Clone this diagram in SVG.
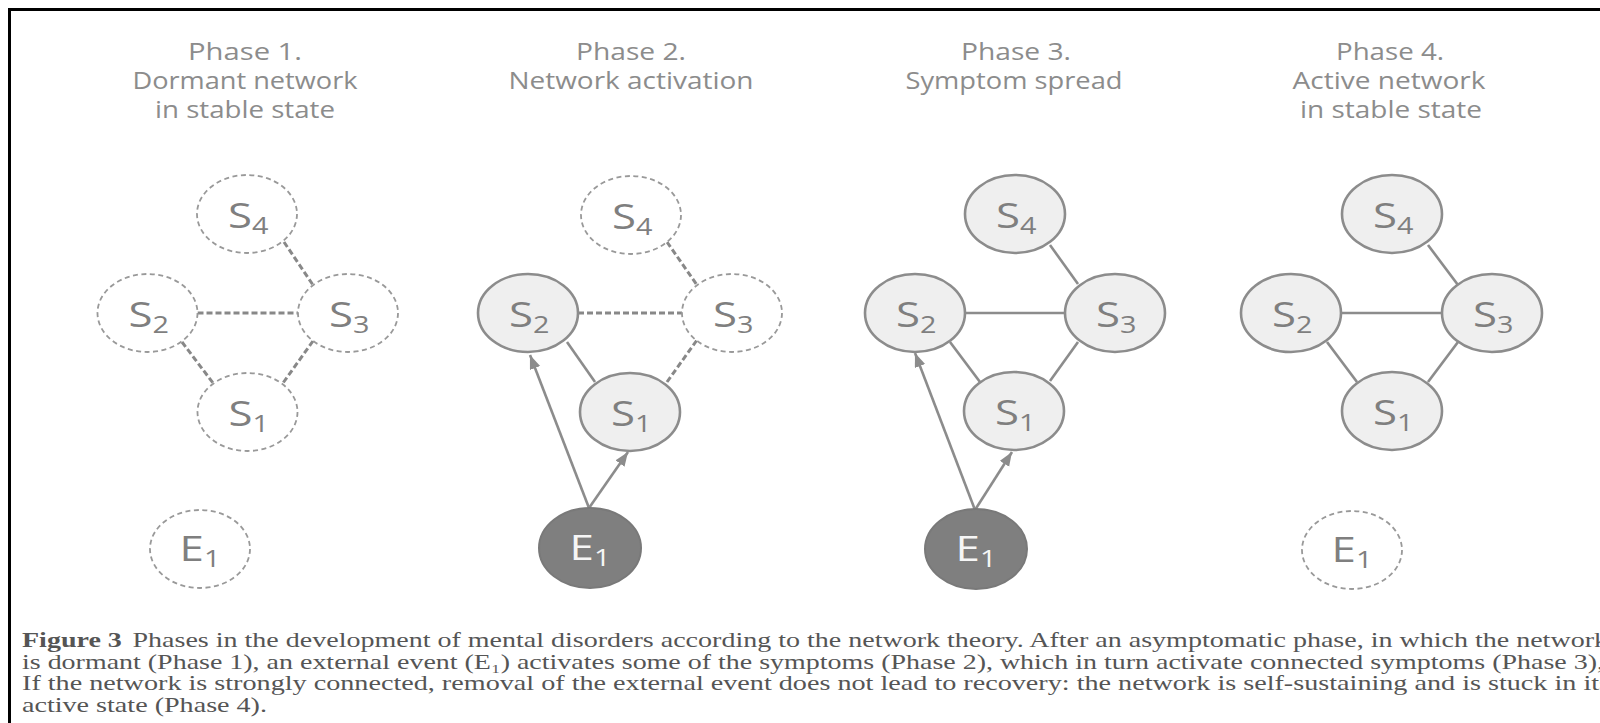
<svg xmlns="http://www.w3.org/2000/svg" width="1600" height="723" viewBox="0 0 1600 723">
<defs>
<style>
.dn{fill:#ffffff;stroke:#999999;stroke-width:1.8;stroke-dasharray:5 3.5}
.an{fill:#efefef;stroke:#8c8c8c;stroke-width:2.6}
.en{fill:#7f7f7f;stroke:#797979;stroke-width:2}
.lbl{font-family:"Open Sans","DejaVu Sans",sans-serif;font-size:35px;fill:#7f7f7f;text-anchor:middle}
.sub{font-size:23px}
.le{fill:#f6f6f6}
.es{stroke:#8c8c8c;stroke-width:2.6;fill:none}
.ed{stroke:#888888;stroke-width:3;stroke-dasharray:6 3;fill:none}
.ar{stroke:#8c8c8c;stroke-width:2.6;fill:none;marker-end:url(#ah)}
.title{font-family:"Open Sans","DejaVu Sans",sans-serif;font-size:23px;fill:#8c8c8c;text-anchor:middle}
.cap{font-family:"Liberation Serif","DejaVu Serif","Times New Roman",serif;font-size:21px;fill:#555555}
</style>
<marker id="ah" markerUnits="userSpaceOnUse" markerWidth="16" markerHeight="12" refX="14" refY="5.5" orient="auto">
<path d="M0,0 L14,5.5 L0,11 Z" fill="#8c8c8c"/>
</marker>
</defs>
<rect x="0" y="0" width="1600" height="723" fill="#ffffff"/>
<rect x="9.5" y="9.5" width="1700" height="800" fill="#ffffff" stroke="#000000" stroke-width="3"/>

<g id="titles">
<text class="title" x="245" y="60" textLength="114" lengthAdjust="spacingAndGlyphs">Phase 1.</text>
<text class="title" x="245" y="89" textLength="225" lengthAdjust="spacingAndGlyphs">Dormant network</text>
<text class="title" x="245" y="118" textLength="180" lengthAdjust="spacingAndGlyphs">in stable state</text>
<text class="title" x="631" y="60" textLength="110" lengthAdjust="spacingAndGlyphs">Phase 2.</text>
<text class="title" x="631" y="89" textLength="245" lengthAdjust="spacingAndGlyphs">Network activation</text>
<text class="title" x="1016" y="60" textLength="110" lengthAdjust="spacingAndGlyphs">Phase 3.</text>
<text class="title" x="1014" y="89" textLength="217" lengthAdjust="spacingAndGlyphs">Symptom spread</text>
<text class="title" x="1390" y="60" textLength="108" lengthAdjust="spacingAndGlyphs">Phase 4.</text>
<text class="title" x="1389" y="89" textLength="193" lengthAdjust="spacingAndGlyphs">Active network</text>
<text class="title" x="1391" y="118" textLength="182" lengthAdjust="spacingAndGlyphs">in stable state</text>
</g>

<g id="connectors">
<line class="ed" x1="284" y1="242" x2="313" y2="285"/>
<line class="ed" x1="197.5" y1="313" x2="298" y2="313"/>
<line class="ed" x1="182" y1="342" x2="213" y2="383"/>
<line class="ed" x1="313" y1="341" x2="283" y2="383"/>

<line class="ed" x1="667" y1="242" x2="697" y2="285"/>
<line class="ed" x1="578" y1="313" x2="682" y2="313"/>
<line class="es" x1="567" y1="342" x2="595" y2="382"/>
<line class="ed" x1="667" y1="382" x2="697" y2="340"/>
<line class="ar" x1="589" y1="508" x2="530" y2="355"/>
<line class="ar" x1="589" y1="508" x2="628" y2="452"/>

<line class="es" x1="1050" y1="245" x2="1078" y2="284"/>
<line class="es" x1="965" y1="313" x2="1065" y2="313"/>
<line class="es" x1="950" y1="342" x2="980" y2="382"/>
<line class="es" x1="1078" y1="342" x2="1050" y2="381"/>
<line class="ar" x1="975" y1="510" x2="915" y2="353"/>
<line class="ar" x1="975" y1="510" x2="1012" y2="452"/>

<line class="es" x1="1428" y1="245" x2="1458" y2="285"/>
<line class="es" x1="1341" y1="313" x2="1442" y2="313"/>
<line class="es" x1="1327" y1="342" x2="1357" y2="382"/>
<line class="es" x1="1458" y1="342" x2="1428" y2="382"/>
</g>

<g id="p1-s4" transform="translate(247 214)"><ellipse class="dn" rx="50" ry="39"/><text class="lbl" transform="scale(1.25 1)" x="1" y="14">S<tspan class="sub" dy="6">4</tspan></text></g>
<g id="p1-s2" transform="translate(147.5 313)"><ellipse class="dn" rx="50" ry="39"/><text class="lbl" transform="scale(1.25 1)" x="1" y="14">S<tspan class="sub" dy="6">2</tspan></text></g>
<g id="p1-s3" transform="translate(348 313)"><ellipse class="dn" rx="50" ry="39"/><text class="lbl" transform="scale(1.25 1)" x="1" y="14">S<tspan class="sub" dy="6">3</tspan></text></g>
<g id="p1-s1" transform="translate(247.5 412)"><ellipse class="dn" rx="50" ry="39"/><text class="lbl" transform="scale(1.25 1)" x="1" y="14">S<tspan class="sub" dy="6">1</tspan></text></g>
<g id="p1-e1" transform="translate(200 549)"><ellipse class="dn" rx="50" ry="39"/><text class="lbl" transform="scale(1.25 1)" x="0" y="12">E<tspan class="sub" dy="6">1</tspan></text></g>

<g id="p2-s4" transform="translate(631 215)"><ellipse class="dn" rx="50" ry="39"/><text class="lbl" transform="scale(1.25 1)" x="1" y="14">S<tspan class="sub" dy="6">4</tspan></text></g>
<g id="p2-s2" transform="translate(528 313)"><ellipse class="an" rx="50" ry="39"/><text class="lbl" transform="scale(1.25 1)" x="1" y="14">S<tspan class="sub" dy="6">2</tspan></text></g>
<g id="p2-s3" transform="translate(732 313)"><ellipse class="dn" rx="50" ry="39"/><text class="lbl" transform="scale(1.25 1)" x="1" y="14">S<tspan class="sub" dy="6">3</tspan></text></g>
<g id="p2-s1" transform="translate(630 412)"><ellipse class="an" rx="50" ry="39"/><text class="lbl" transform="scale(1.25 1)" x="1" y="14">S<tspan class="sub" dy="6">1</tspan></text></g>
<g id="p2-e1" transform="translate(590 548)"><ellipse class="en" rx="51" ry="40"/><text class="lbl le" transform="scale(1.25 1)" x="0" y="12">E<tspan class="sub" dy="6">1</tspan></text></g>

<g id="p3-s4" transform="translate(1015 214)"><ellipse class="an" rx="50" ry="39"/><text class="lbl" transform="scale(1.25 1)" x="1" y="14">S<tspan class="sub" dy="6">4</tspan></text></g>
<g id="p3-s2" transform="translate(915 313)"><ellipse class="an" rx="50" ry="39"/><text class="lbl" transform="scale(1.25 1)" x="1" y="14">S<tspan class="sub" dy="6">2</tspan></text></g>
<g id="p3-s3" transform="translate(1115 313)"><ellipse class="an" rx="50" ry="39"/><text class="lbl" transform="scale(1.25 1)" x="1" y="14">S<tspan class="sub" dy="6">3</tspan></text></g>
<g id="p3-s1" transform="translate(1014 411)"><ellipse class="an" rx="50" ry="39"/><text class="lbl" transform="scale(1.25 1)" x="1" y="14">S<tspan class="sub" dy="6">1</tspan></text></g>
<g id="p3-e1" transform="translate(976 549)"><ellipse class="en" rx="51" ry="40"/><text class="lbl le" transform="scale(1.25 1)" x="0" y="12">E<tspan class="sub" dy="6">1</tspan></text></g>

<g id="p4-s4" transform="translate(1392 214)"><ellipse class="an" rx="50" ry="39"/><text class="lbl" transform="scale(1.25 1)" x="1" y="14">S<tspan class="sub" dy="6">4</tspan></text></g>
<g id="p4-s2" transform="translate(1291 313)"><ellipse class="an" rx="50" ry="39"/><text class="lbl" transform="scale(1.25 1)" x="1" y="14">S<tspan class="sub" dy="6">2</tspan></text></g>
<g id="p4-s3" transform="translate(1492 313)"><ellipse class="an" rx="50" ry="39"/><text class="lbl" transform="scale(1.25 1)" x="1" y="14">S<tspan class="sub" dy="6">3</tspan></text></g>
<g id="p4-s1" transform="translate(1392 411)"><ellipse class="an" rx="50" ry="39"/><text class="lbl" transform="scale(1.25 1)" x="1" y="14">S<tspan class="sub" dy="6">1</tspan></text></g>
<g id="p4-e1" transform="translate(1352 550)"><ellipse class="dn" rx="50" ry="39"/><text class="lbl" transform="scale(1.25 1)" x="0" y="12">E<tspan class="sub" dy="6">1</tspan></text></g>

<g id="caption" class="cap">
<text x="22" y="647" textLength="1586" lengthAdjust="spacingAndGlyphs"><tspan font-weight="bold">Figure 3</tspan><tspan dx="8">Phases in the development of mental disorders according to the network theory. After an asymptomatic phase, in which the network</tspan></text>
<text x="22" y="668.5" textLength="1582" lengthAdjust="spacingAndGlyphs">is dormant (Phase 1), an external event (E₁) activates some of the symptoms (Phase 2), which in turn activate connected symptoms (Phase 3),</text>
<text x="22" y="690" textLength="1588" lengthAdjust="spacingAndGlyphs">If the network is strongly connected, removal of the external event does not lead to recovery: the network is self-sustaining and is stuck in its</text>
<text x="22" y="711.5" textLength="245" lengthAdjust="spacingAndGlyphs">active state (Phase 4).</text>
</g>
</svg>
